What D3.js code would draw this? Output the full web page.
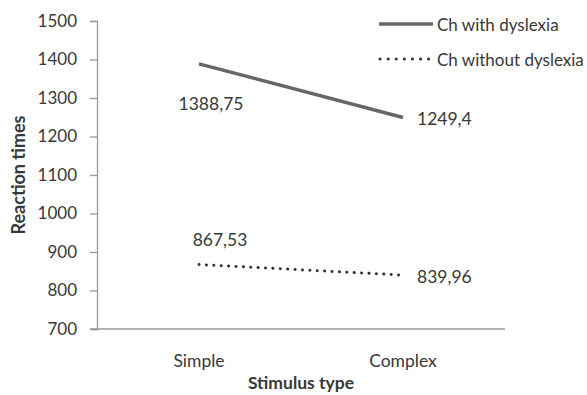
<!DOCTYPE html>
<html><head><meta charset="utf-8">
<script src="https://cdn.jsdelivr.net/npm/d3@7"></script>
<style>body{margin:0;background:#fff;} text{font-family:Lato,"Open Sans",sans-serif;fill:#383838;}</style>
</head><body>
<svg id="c" width="587" height="395"></svg>
<script>
const categories = ["Simple", "Complex"];
const seriesNames = ["Ch with dyslexia", "Ch without dyslexia"];
const withDyslexia = [1388.75, 1249.4];
const withoutDyslexia = [867.53, 839.96];
const labelsWith = ["1388,75", "1249,4"];
const labelsWithout = ["867,53", "839,96"];
const yTicks = [700, 800, 900, 1000, 1100, 1200, 1300, 1400, 1500];

const svg = d3.select("#c");
const L = 97, R = 505, T = 21, B = 329;
const x = d3.scaleBand().domain(categories).range([L, R]);
const y = d3.scaleLinear().domain([700, 1500]).range([B, T]);
const cx = c => x(c) + x.bandwidth() / 2;

// y axis
const ya = svg.append("g").attr("transform", `translate(${L},0)`)
  .call(d3.axisLeft(y).tickValues(yTicks).tickSize(7).tickPadding(13).tickFormat(d3.format("d")));
ya.select(".domain").attr("stroke", "#999").attr("stroke-width", 1.3);
ya.selectAll(".tick line").attr("stroke", "#999").attr("stroke-width", 1.3);
ya.selectAll(".tick text").attr("font-size", 17).attr("font-family", "Lato").attr("fill", "#383838");

// x axis
svg.append("line").attr("x1", L - 7).attr("x2", R).attr("y1", B).attr("y2", B)
  .attr("stroke", "#999").attr("stroke-width", 1.3);
svg.append("g").selectAll("text").data(categories).join("text")
  .attr("x", d => cx(d)).attr("y", 367).attr("text-anchor", "middle")
  .attr("font-size", 17.5).text(d => d);

// titles
svg.append("text").attr("x", R / 2 + L / 2).attr("y", 389).attr("text-anchor", "middle")
  .attr("font-size", 17.5).attr("font-weight", "bold").text("Stimulus type");
svg.append("text").attr("transform", `translate(25,${(T + B) / 2}) rotate(-90)`)
  .attr("text-anchor", "middle").attr("font-size", 18).attr("font-weight", "bold").text("Reaction times");

const line = d3.line().x((d, i) => cx(categories[i])).y(d => y(d));
svg.append("path").datum(withDyslexia).attr("d", line).attr("fill", "none")
  .attr("stroke", "#666").attr("stroke-width", 3.4);
svg.append("path").datum(withoutDyslexia).attr("d", line).attr("fill", "none")
  .attr("stroke", "#333").attr("stroke-width", 3).attr("stroke-linecap", "round")
  .attr("stroke-dasharray", "0.1 7.3");

// data labels
const lab = (txt, xx, yy, anchor) => svg.append("text").attr("x", xx).attr("y", yy)
  .attr("text-anchor", anchor).attr("dominant-baseline", "central").attr("font-size", 17.5).text(txt);
lab(labelsWith[0], cx(categories[0]) + 12, y(withDyslexia[0]) + 40, "middle");
lab(labelsWith[1], cx(categories[1]) + 14, y(withDyslexia[1]) + 1, "start");
lab(labelsWithout[0], cx(categories[0]) + 21, y(withoutDyslexia[0]) - 25, "middle");
lab(labelsWithout[1], cx(categories[1]) + 14, y(withoutDyslexia[1]) + 1, "start");

// legend
const lg = svg.append("g");
lg.append("line").attr("x1", 379).attr("x2", 433).attr("y1", 24).attr("y2", 24)
  .attr("stroke", "#666").attr("stroke-width", 3.4);
lg.append("line").attr("x1", 380).attr("x2", 429).attr("y1", 59).attr("y2", 59)
  .attr("stroke", "#333").attr("stroke-width", 3).attr("stroke-linecap", "round")
  .attr("stroke-dasharray", "0.1 8");
lg.append("text").attr("x", 437).attr("y", 24).attr("dominant-baseline", "central")
  .attr("font-size", 17).text(seriesNames[0]);
lg.append("text").attr("x", 437).attr("y", 59).attr("dominant-baseline", "central")
  .attr("font-size", 17).text(seriesNames[1]);
</script>
</body></html>
